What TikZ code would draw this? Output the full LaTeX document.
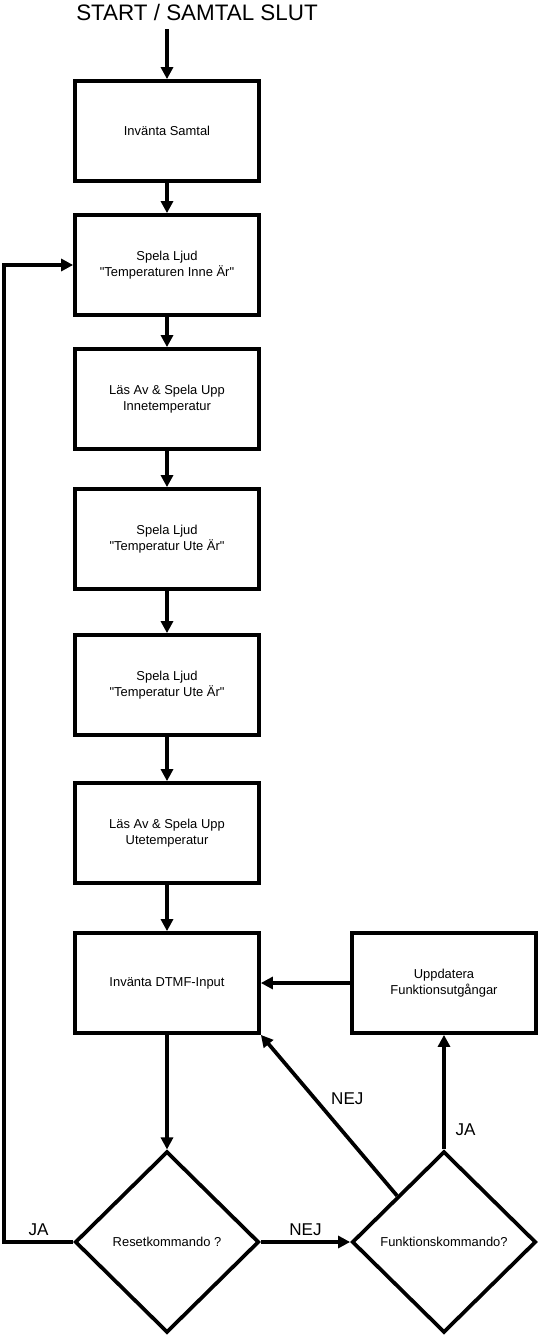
\documentclass[tikz,border=0pt]{standalone}
\usepackage{fontspec}
\setmainfont{Liberation Sans}
\usetikzlibrary{shapes.geometric,arrows.meta}

\begin{document}
\begin{tikzpicture}[x=0.75pt,y=-0.75pt,
    box/.style={draw, line width=2.8pt, minimum width=138pt, minimum height=75pt, inner sep=0pt, align=center, font=\fontsize{9.7}{12.5}\selectfont},
    choice/.style={draw, diamond, line width=2.8pt, minimum width=138pt, minimum height=136pt, inner sep=0pt, align=center, font=\fontsize{9.7}{12.5}\selectfont},
    arr/.style={line width=2.8pt, -{Triangle[length=9pt,width=9pt]}},
    lbl/.style={font=\fontsize{12.8}{14}\selectfont}]
    \useasboundingbox (0,0) rectangle (541,1336);
\node at (197,12) (title) {\fontsize{16.8}{18}\selectfont START / SAMTAL SLUT};
\coordinate (s0) at (167,29);
\node[box] at (167,131) (b1) {Invänta Samtal};
\node[box] at (167,265) (b2) {Spela Ljud\\\textquotedbl{}Temperaturen Inne Är\textquotedbl{}};
\node[box] at (167,399) (b3) {Läs Av \& Spela Upp\\Innetemperatur};
\node[box] at (167,539) (b4) {Spela Ljud\\\textquotedbl{}Temperatur Ute Är\textquotedbl{}};
\node[box] at (167,685) (b5) {Spela Ljud\\\textquotedbl{}Temperatur Ute Är\textquotedbl{}};
\node[box] at (167,833) (b6) {Läs Av \& Spela Upp\\Utetemperatur};
\node[box] at (167,983) (b7) {Invänta DTMF-Input};
\node[box] at (444,983) (b8) {Uppdatera\\Funktionsutgångar};
\node[choice] at (167,1242) (d1) {Resetkommando ?};
\node[choice] at (444,1242) (d2) {Funktionskommando?};
\coordinate (loop) at (4,1242);
\draw[arr] (s0) -- (b1);
\draw[arr] (b1) -- (b2);
\draw[arr] (b2) -- (b3);
\draw[arr] (b3) -- (b4);
\draw[arr] (b4) -- (b5);
\draw[arr] (b5) -- (b6);
\draw[arr] (b6) -- (b7);
\draw[arr] (b7) -- (d1);
\draw[arr] (d1.west) -- node[lbl, above] {JA} (loop) |- (b2.west);
\draw[arr] (d1.east) -- node[lbl, above] {NEJ} (d2.west);
\draw[arr] (d2.north) -- node[lbl, right=4pt, pos=0.17] {JA} (b8.south);
\draw[arr] (d2.north west) -- node[lbl, above right, pos=0.53] {NEJ} (b7.south east);
\draw[arr] (b8.west) -- (b7.east);
  \end{tikzpicture}
\end{document}
